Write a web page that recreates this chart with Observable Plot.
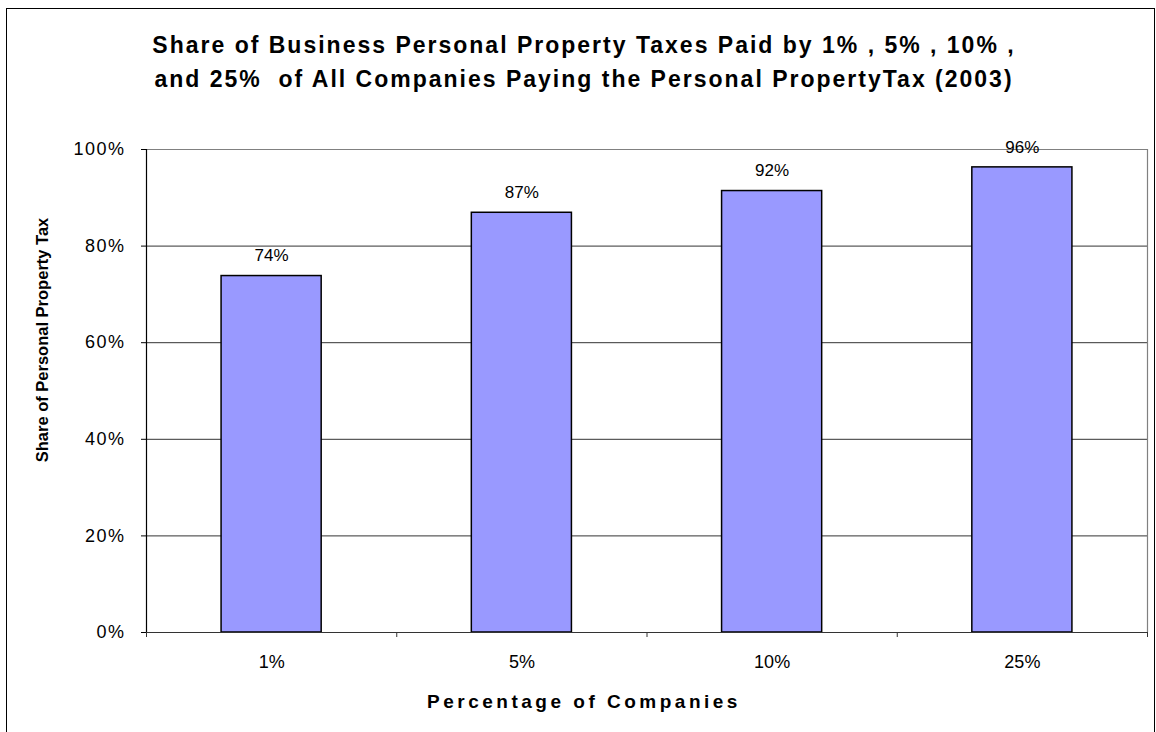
<!DOCTYPE html>
<html><head><meta charset="utf-8">
<script src="https://cdn.jsdelivr.net/npm/d3@7"></script>
<script src="https://cdn.jsdelivr.net/npm/@observablehq/plot@0.6"></script>
<style>
body{margin:0;background:#fff;font-family:"Liberation Sans",Arial,sans-serif;}
#wrap{position:relative;width:1156px;height:732px;overflow:hidden;background:#fff;}
#frame{position:absolute;left:6px;top:8px;width:1149px;height:780px;border:1.5px solid #000;box-sizing:border-box;}
.title{position:absolute;left:7px;width:1154px;text-align:center;font-weight:bold;font-size:23px;letter-spacing:2px;color:#000;white-space:pre;line-height:1;}
#xt{position:absolute;left:7px;width:1154px;top:692px;text-align:center;font-weight:bold;font-size:19px;letter-spacing:3.5px;white-space:pre;line-height:1;}
#yt{position:absolute;left:42px;top:340px;transform:translate(-50%,-50%) rotate(-90deg);font-weight:bold;font-size:16.5px;white-space:pre;line-height:1;}
#chart{position:absolute;left:0;top:0;}
#chart g[aria-label="y-axis tick label"] text{letter-spacing:1.5px;}
</style></head>
<body>
<div id="wrap">
  <div id="frame"></div>
  <div class="title" style="top:34px">Share of Business Personal Property Taxes Paid by 1% , 5% , 10% ,</div>
  <div class="title" style="top:68px">and 25%  of All Companies Paying the Personal PropertyTax (2003)</div>
  <div id="chart"></div>
  <div id="xt">Percentage of Companies</div>
  <div id="yt">Share of Personal Property Tax</div>
</div>
<script>
const categories = ["1%", "5%", "10%", "25%"];
const shares = [0.738, 0.869, 0.914, 0.963];
const valueLabels = ["74%", "87%", "92%", "96%"];
const yTicks = [0, 0.2, 0.4, 0.6, 0.8, 1];

const data = categories.map((c, i) => ({cat: c, i, v: shares[i], label: valueLabels[i]}));
const bounds = d3.range(categories.length + 1);

const chart = Plot.plot({
  width: 1156,
  height: 732,
  marginLeft: 146,
  marginRight: 9,
  marginTop: 149,
  marginBottom: 100,
  style: {fontFamily: "'Liberation Sans', Arial, sans-serif", background: "transparent", overflow: "visible"},
  x: {domain: [0, categories.length], axis: null},
  y: {domain: [0, 1], axis: null},
  marks: [
    Plot.ruleY(yTicks.filter(t => t > 0 && t < 1), {stroke: "#333", strokeWidth: 1}),
    Plot.ruleY([1], {stroke: "#808080", strokeWidth: 1.2}),
    Plot.ruleX([categories.length], {stroke: "#808080", strokeWidth: 1.2}),
    Plot.rectY(data, {x1: d => d.i + 0.3, x2: d => d.i + 0.7, y: "v", fill: "#9999FF", stroke: "#000", strokeWidth: 1.5}),
    Plot.text(data, {x: d => d.i + 0.5, y: "v", text: "label", dy: -20, fontSize: 17}),
    Plot.axisY({ticks: yTicks, tickFormat: d3.format(".0%"), tickSize: 5, tickPadding: 16, fontSize: 18, label: null, stroke: "#000"}),
    Plot.axisX({ticks: bounds, tickFormat: () => "", tickSize: 5, label: null, stroke: "#333"}),
    Plot.ruleX([0], {stroke: "#000", strokeWidth: 1.2}),
    Plot.ruleY([0], {stroke: "#333", strokeWidth: 1.2}),
    Plot.text(data, {x: d => d.i + 0.5, y: 0, text: "cat", dy: 30, fontSize: 18})
  ]
});
document.getElementById("chart").appendChild(chart);
</script>
</body></html>
